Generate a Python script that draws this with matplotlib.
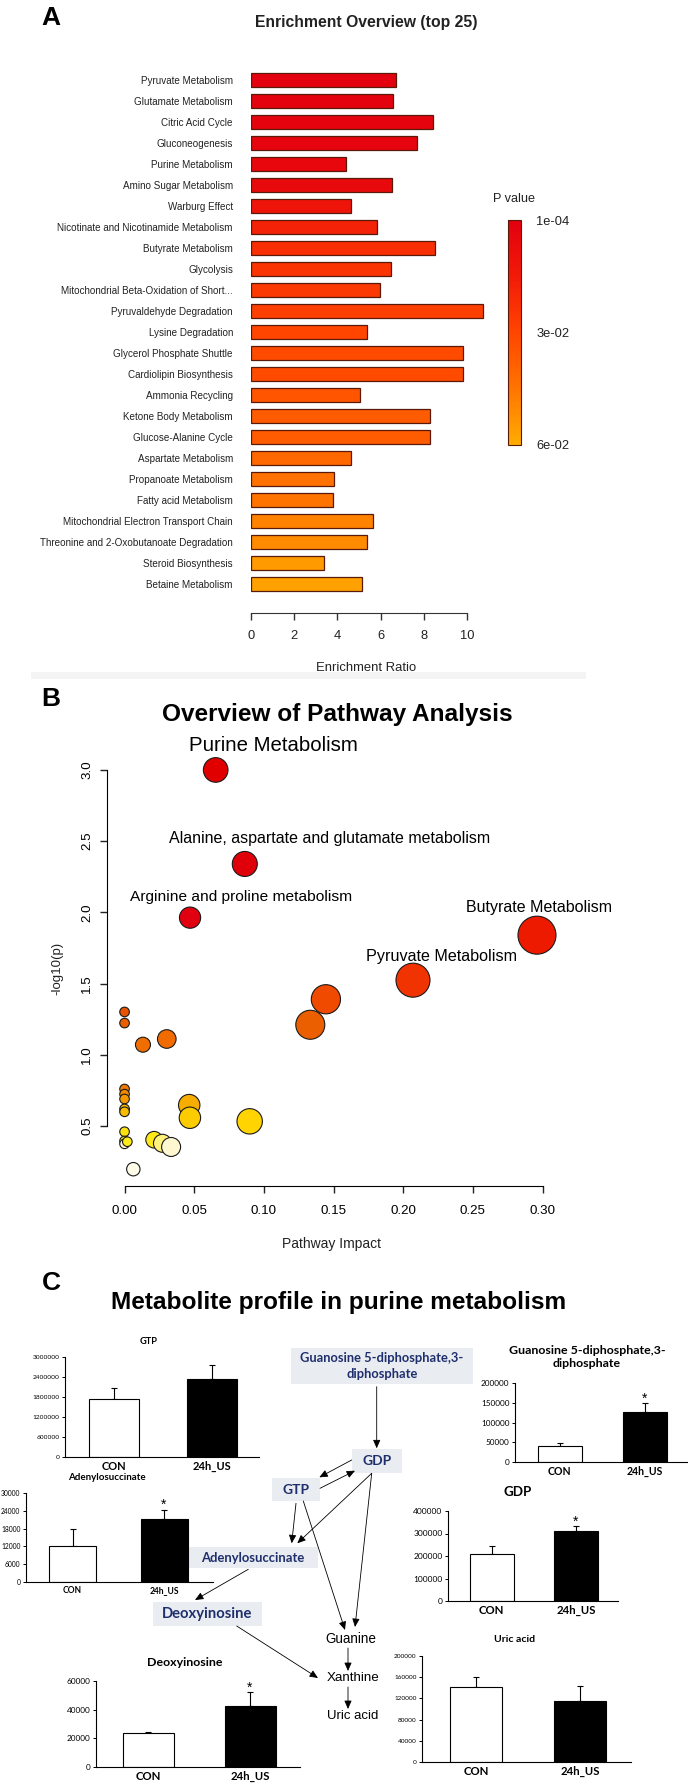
import numpy as np
import matplotlib
matplotlib.use("Agg")
import matplotlib.pyplot as plt
from matplotlib.colors import LinearSegmentedColormap, Normalize
from matplotlib.colorbar import ColorbarBase
from matplotlib.patches import Rectangle
from matplotlib.ticker import FormatStrFormatter

# ---------------- Panel A data ----------------
a_pathways = ["Pyruvate Metabolism", "Glutamate Metabolism", "Citric Acid Cycle", "Gluconeogenesis",
              "Purine Metabolism", "Amino Sugar Metabolism", "Warburg Effect",
              "Nicotinate and Nicotinamide Metabolism", "Butyrate Metabolism", "Glycolysis",
              "Mitochondrial Beta-Oxidation of Short...", "Pyruvaldehyde Degradation",
              "Lysine Degradation", "Glycerol Phosphate Shuttle", "Cardiolipin Biosynthesis",
              "Ammonia Recycling", "Ketone Body Metabolism", "Glucose-Alanine Cycle",
              "Aspartate Metabolism", "Propanoate Metabolism", "Fatty acid Metabolism",
              "Mitochondrial Electron Transport Chain", "Threonine and 2-Oxobutanoate Degradation",
              "Steroid Biosynthesis", "Betaine Metabolism"]
a_ratio = [6.73, 6.59, 8.43, 7.69, 4.39, 6.53, 4.63, 5.84, 8.51, 6.47, 5.98, 10.76, 5.39,
           9.80, 9.80, 5.06, 8.31, 8.31, 4.63, 3.86, 3.78, 5.67, 5.39, 3.37, 5.14]
a_pvalue = [0.0009, 0.0013, 0.0020, 0.0030, 0.0042, 0.0055, 0.012, 0.018, 0.022, 0.024,
            0.026, 0.028, 0.030, 0.032, 0.032, 0.035, 0.037, 0.037, 0.041, 0.044, 0.045,
            0.049, 0.051, 0.055, 0.057]
a_xticks = [0, 2, 4, 6, 8, 10]
a_cbar_ticks = [1e-4, 3e-2, 6e-2]
a_cbar_labels = ["1e-04", "3e-02", "6e-02"]

# ---------------- Panel B data ----------------
b_impact = [0.0654, 0.0863, 0.047, 0.296, 0.207, 0.1445, 0.1333, 0.0, 0.0, 0.0303, 0.0132,
            0.0, 0.0, 0.0, 0.0, 0.0, 0.0464, 0.0469, 0.0898, 0.0, 0.0, 0.0, 0.002,
            0.0212, 0.0272, 0.0334, 0.0063]
b_logp = [3.00, 2.34, 1.963, 1.84, 1.524, 1.39, 1.211, 1.301, 1.223, 1.111, 1.071,
          0.76, 0.724, 0.69, 0.62, 0.60, 0.647, 0.558, 0.533, 0.46, 0.395, 0.375, 0.39,
          0.404, 0.379, 0.353, 0.197]
b_radius = [12.3, 12.5, 10.6, 19.0, 17.0, 14.6, 14.5, 4.8, 4.8, 9.3, 7.5,
            4.8, 4.8, 4.8, 4.8, 4.8, 10.7, 10.7, 12.7, 4.8, 4.8, 4.8, 4.8,
            8.3, 9.0, 9.5, 6.7]
b_names = ["Purine Metabolism", "Alanine, aspartate and glutamate metabolism",
           "Arginine and proline metabolism", "Butyrate Metabolism", "Pyruvate Metabolism"]
b_xticks = [0.00, 0.05, 0.10, 0.15, 0.20, 0.25, 0.30]
b_yticks = [0.5, 1.0, 1.5, 2.0, 2.5, 3.0]

# ---------------- Panel C data ----------------
c_metabolites = ["GTP", "Guanosine 5-diphosphate,3-\ndiphosphate", "Adenylosuccinate",
                 "GDP", "Deoxyinosine", "Uric acid"]
c_groups = ["CON", "24h_US"]
c_means = [[1740000, 2340000], [40500, 126600], [12100, 21200],
           [208900, 311000], [23700, 42600], [141800, 115600]]
c_errs = [[330000, 420000], [7500, 22400], [5800, 3100],
          [35100, 22000], [800, 9700], [18800, 27500]]
c_sig = [[False, False], [False, True], [False, True],
         [False, True], [False, True], [False, False]]
c_ymax = [3000000, 200000, 30000, 400000, 60000, 200000]
c_ystep = [600000, 50000, 6000, 100000, 20000, 40000]

# ---------------- figure helpers ----------------
W, H = 688, 1786
fig = plt.figure(figsize=(W / 100, H / 100), dpi=100)
renderer = fig.canvas.get_renderer()

NARROW = ["Liberation Sans Narrow", "Liberation Sans", "DejaVu Sans"]
ARIAL = ["Liberation Sans", "DejaVu Sans"]
GILL = ["Lato", "DejaVu Sans"]


def rect(l, t, r, b):
    return [l / W, 1 - b / H, (r - l) / W, (b - t) / H]


def fit(s, target, family, weight="normal"):
    t = fig.text(0, 0, s, fontsize=10, family=family, fontweight=weight)
    w = t.get_window_extent(renderer).width
    t.remove()
    return 10.0 * target / w


ov = fig.add_axes([0, 0, 1, 1])
ov.set_xlim(0, W)
ov.set_ylim(H, 0)
ov.axis("off")


def T(x, y, s, size, family=ARIAL, weight="normal", color="black", **kw):
    ov.text(x, y, s, fontsize=size, family=family, fontweight=weight, color=color,
            ha=kw.pop("ha", "center"), va=kw.pop("va", "center"), **kw)


# panel letters
for letter, y in [("A", 18), ("B", 699), ("C", 1283)]:
    T(51, y, letter, 19, ARIAL, "bold")

# ================= Panel A =================
T(366, 22, "Enrichment Overview (top 25)", fit("Enrichment Overview (top 25)", 223, NARROW, "bold"),
  NARROW, "bold", color="#222222")
axA = fig.add_axes(rect(251, 68, 251 + 21.6 * 11, 613))
cmapA = LinearSegmentedColormap.from_list("a", ["#E3000F", "#F21A08", "#FF4500", "#FF7400", "#FFAC00"])
normA = Normalize(1e-4, 6e-2)
ypos = np.arange(len(a_pathways))
axA.barh(ypos, a_ratio, height=0.7, color=cmapA(normA(np.array(a_pvalue))),
         edgecolor="#5A1A0A", linewidth=0.9)
axA.set_xlim(0, 11)
axA.set_ylim(len(a_pathways) + 0.38, -0.57)
fsAy = fit("Nicotinate and Nicotinamide Metabolism", 176, NARROW)
fsAt = fit("1e-04", 33, NARROW)
axA.set_yticks(ypos)
axA.set_yticklabels(a_pathways, fontsize=fsAy, family=NARROW, color="#222222")
axA.tick_params(axis="y", length=0, pad=13)
axA.set_xticks(a_xticks)
axA.set_xticklabels([str(v) for v in a_xticks], fontsize=fsAt, family=NARROW, color="#222222")
axA.tick_params(axis="x", length=5, width=1.0, pad=7, color="#333333")
for s in ["top", "right", "left"]:
    axA.spines[s].set_visible(False)
axA.spines["bottom"].set_bounds(0, 10)
axA.spines["bottom"].set_color("#333333")
axA.set_facecolor("none")
T(366, 668, "Enrichment Ratio", fit("Enrichment Ratio", 100, NARROW), NARROW, color="#222222")
ov.add_patch(Rectangle((31, 672), 555, 7, facecolor="#F4F4F4", edgecolor="none"))

caxA = fig.add_axes(rect(507.5, 220, 521, 444.5))
cb = ColorbarBase(caxA, cmap=cmapA, norm=normA, orientation="vertical")
caxA.invert_yaxis()
cb.set_ticks(a_cbar_ticks)
cb.set_ticklabels(a_cbar_labels)
caxA.tick_params(length=0, pad=11, labelsize=fsAt)
for lab in caxA.get_yticklabels():
    lab.set_family(NARROW)
    lab.set_color("#222222")
cb.outline.set_linewidth(0.8)
cb.outline.set_edgecolor("#5A1A0A")
T(514, 199, "P value", fit("P value", 42, NARROW), NARROW, color="#222222")

# ================= Panel B =================
T(337.5, 715, "Overview of Pathway Analysis",
  fit("Overview of Pathway Analysis", 351, ARIAL, "bold"), ARIAL, "bold")
axB = fig.add_axes(rect(107, 755.7, 556.5, 1186))
axB.set_xlim(-0.0126, 0.31)
axB.set_ylim(0.079, 3.1)
nodesB = [(0.18, "#FFFCEB"), (0.37, "#FFF6CC"), (0.39, "#FFEC1A"), (0.53, "#FFD500"),
          (0.65, "#F7AA00"), (0.76, "#F07800"), (1.10, "#F06C00"), (1.30, "#E85400"),
          (1.39, "#F04800"), (1.52, "#F03400"), (1.84, "#EE1A00"), (1.96, "#E00010"),
          (3.0, "#E00000")]
lo, hi = nodesB[0][0], nodesB[-1][0]
cmapB = LinearSegmentedColormap.from_list("b", [((v - lo) / (hi - lo), c) for v, c in nodesB])
normB = Normalize(lo, hi)
sizes = (1.44 * np.array(b_radius)) ** 2
axB.scatter(b_impact, b_logp, s=sizes, c=cmapB(normB(np.array(b_logp))),
            edgecolors="#1A1A1A", linewidths=0.8, clip_on=False, zorder=3)
label_off_px = [(58, -24), (85, -25), (51, -21), (2, -28), (29, -24)]
label_w = [169, 323, 222, 146, 151]
for i, name in enumerate(b_names):
    dx, dy = label_off_px[i]
    axB.annotate(name, (b_impact[i], b_logp[i]), xytext=(dx * 0.72, -dy * 0.72),
                 textcoords="offset points", ha="center", va="center",
                 fontsize=fit(name, label_w[i], ARIAL), family=ARIAL)
for s in ["top", "right"]:
    axB.spines[s].set_visible(False)
axB.spines["left"].set_bounds(0.5, 3.0)
axB.spines["bottom"].set_bounds(0.0, 0.3)
fsBt = fit("0.00", 26, ARIAL)
axB.set_xticks(b_xticks)
axB.set_yticks(b_yticks)
axB.xaxis.set_major_formatter(FormatStrFormatter("%.2f"))
axB.yaxis.set_major_formatter(FormatStrFormatter("%.1f"))
axB.tick_params(axis="both", length=5, width=1.0, labelsize=fsBt, color="#222222")
axB.tick_params(axis="x", pad=9)
axB.tick_params(axis="y", pad=5)
for lab in axB.get_yticklabels():
    lab.set_rotation(90)
    lab.set_va("center")
for lab in axB.get_xticklabels() + axB.get_yticklabels():
    lab.set_family(ARIAL)
axB.set_facecolor("none")
T(331, 1244, "Pathway Impact", fit("Pathway Impact", 99, ARIAL), ARIAL, color="#222222")
T(57, 968, "-log10(p)", fit("-log10(p)", 53, ARIAL), ARIAL, color="#222222", rotation=90)

# ================= Panel C =================
T(338.5, 1303, "Metabolite profile in purine metabolism",
  fit("Metabolite profile in purine metabolism", 453, ARIAL, "bold"), ARIAL, "bold")

# layout: left, right, top, bottom, centre1, centre2, bar width, title pos, title width,
#         tick-label ref width, group-label width
c_layout = [
    dict(L=65, R=259, T=1357, B=1457, c1=114, c2=211.5, w=50, tx=149, ty=1342, tw=18, kw=26, gw=39),
    dict(L=515, R=687, T=1383, B=1462, c1=559.5, c2=645, w=44, tx=587, ty=1357, tw=157, kw=28.5, gw=37),
    dict(L=26, R=213, T=1493, B=1582, c1=72.5, c2=164, w=47, tx=107, ty=1478, tw=78, kw=19, gw=30),
    dict(L=448, R=618, T=1511, B=1601, c1=491.5, c2=576, w=44, tx=518, ty=1492, tw=28, kw=29, gw=40),
    dict(L=96, R=300, T=1681, B=1767, c1=148, c2=250, w=51, tx=185, ty=1662, tw=76, kw=24, gw=40),
    dict(L=422, R=631, T=1656, B=1762, c1=476, c2=580, w=52, tx=515, ty=1640, tw=41, kw=22, gw=40),
]
for i, lay in enumerate(c_layout):
    unit = lay["c2"] - lay["c1"]
    ax = fig.add_axes(rect(lay["L"], lay["T"], lay["R"], lay["B"]))
    x = np.arange(2)
    ax.errorbar(x, c_means[i], yerr=[[0, 0], c_errs[i]], fmt="none", ecolor="black",
                elinewidth=0.8, capsize=2.2, capthick=0.8, zorder=1)
    ax.bar(x, c_means[i], width=lay["w"] / unit, color=["white", "black"],
           edgecolor="black", linewidth=0.8, zorder=2)
    ax.set_xlim((lay["L"] - lay["c1"]) / unit, (lay["R"] - lay["c1"]) / unit)
    ax.set_ylim(0, c_ymax[i])
    yt = np.arange(0, c_ymax[i] + c_ystep[i] / 2, c_ystep[i])
    ax.set_yticks(yt)
    fs_tick = fit(str(int(c_ymax[i])), lay["kw"], GILL)
    ax.set_yticklabels([str(int(v)) for v in yt], fontsize=fs_tick, family=GILL)
    fs_grp = fit("24h_US", lay["gw"], GILL, "bold")
    ax.set_xticks(x)
    ax.set_xticklabels(c_groups, fontsize=fs_grp, family=GILL, fontweight="bold")
    ax.tick_params(axis="x", length=0, pad=3)
    ax.tick_params(axis="y", length=2.5, width=0.7, pad=1.5)
    for s in ["top", "right"]:
        ax.spines[s].set_visible(False)
    for s in ["left", "bottom"]:
        ax.spines[s].set_linewidth(0.8)
    ax.set_facecolor("none")
    first_line = c_metabolites[i].split("\n")[0]
    T(lay["tx"], lay["ty"], c_metabolites[i], fit(first_line, lay["tw"], GILL, "bold"),
      GILL, "bold", linespacing=1.3)
    for j in range(2):
        if c_sig[i][j]:
            ax.annotate("*", (x[j], c_means[i][j] + c_errs[i][j]), xytext=(0, 0.5),
                        textcoords="offset points", ha="center", va="baseline",
                        fontsize=10, family=ARIAL)

# pathway diagram (overlay, pixel coordinates)
NAVY = "#1F2F6E"
BOXC = "#E9ECF0"
boxes = [
    (291, 1348, 473, 1384, "Guanosine 5-diphosphate,3-\ndiphosphate", "Guanosine 5-diphosphate,3-", 163),
    (352, 1449, 402, 1473, "GDP", "GDP", 29),
    (272, 1478, 320, 1501, "GTP", "GTP", 27),
    (188, 1547, 318, 1568, "Adenylosuccinate", "Adenylosuccinate", 103),
    (153, 1602, 262, 1626, "Deoxyinosine", "Deoxyinosine", 90),
]
for l, t, r, b, s, ref, tw in boxes:
    ov.add_patch(Rectangle((l, t), r - l, b - t, facecolor=BOXC, edgecolor="none"))
    T((l + r) / 2, (t + b) / 2, s, fit(ref, tw, GILL, "bold"), GILL, "bold", color=NAVY,
      linespacing=1.3)
for s, x, y, tw in [("Guanine", 351, 1639, 51.5), ("Xanthine", 353, 1678, 53), ("Uric acid", 353, 1716, 52)]:
    T(x, y, s, fit(s, tw, NARROW), NARROW)

arrows = [
    ((376.7, 1386.7), (376.7, 1448.3)),
    ((351.7, 1460.0), (319.3, 1477.3)),
    ((320.0, 1488.3), (355.0, 1470.7)),
    ((296.0, 1503.3), (291.7, 1543.3)),
    ((371.7, 1473.3), (297.3, 1543.3)),
    ((303.3, 1501.0), (345.0, 1630.0)),
    ((371.7, 1473.3), (355.0, 1627.0)),
    ((248.3, 1569.3), (195.0, 1600.0)),
    ((236.7, 1626.0), (318.0, 1678.0)),
    ((348.0, 1648.0), (348.0, 1671.0)),
    ((348.0, 1687.0), (348.0, 1709.0)),
]
for (x0, y0), (x1, y1) in arrows:
    ov.annotate("", xy=(x1, y1), xytext=(x0, y0),
                arrowprops=dict(arrowstyle="-|>,head_length=0.5,head_width=0.22", color="black",
                                lw=0.6, shrinkA=0, shrinkB=0))

fig.savefig("out.png", dpi=100)
